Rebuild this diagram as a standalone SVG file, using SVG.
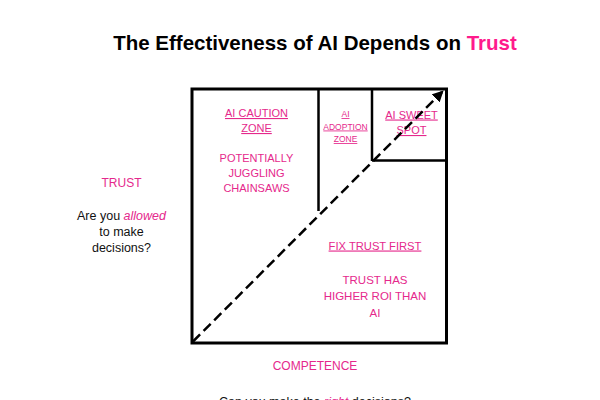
<svg xmlns="http://www.w3.org/2000/svg" width="600" height="400" viewBox="0 0 600 400">
<defs>
<style>
.t{font-family:"Liberation Sans",Arial,sans-serif;}
.p{fill:#e5288c;}
.u{text-decoration:underline;}
.k{fill:#111;}
.box{fill:none;stroke:#000;stroke-width:3;}
.ln{stroke:#000;stroke-width:2.5;fill:none;}
</style>
<marker id="ah" viewBox="0 0 10 10" refX="8" refY="5" markerWidth="4.5" markerHeight="4.5" orient="auto" markerUnits="strokeWidth">
<path d="M0,0 L10,5 L0,10 Z" fill="#000"/>
</marker>
</defs>
<rect width="600" height="400" fill="#fff"/>
<text class="t" x="315" y="50" font-size="20.5" font-weight="bold" text-anchor="middle" fill="#000">The Effectiveness of AI Depends on <tspan fill="#ff1a8c">Trust</tspan></text>

<g id="frame">
<rect class="box" x="192" y="89" width="254.5" height="254"/>
</g>
<g id="caution-zone">
<line class="ln" x1="318.5" y1="89" x2="318.5" y2="211"/>
<text class="t p" font-size="11" text-anchor="middle"><tspan class="u" x="256.5" y="117">AI CAUTION</tspan><tspan class="u" x="256.5" y="132">ZONE  </tspan></text>
<text class="t p" font-size="11" text-anchor="middle"><tspan x="256.5" y="162">POTENTIALLY</tspan><tspan x="256.5" y="177">JUGGLING</tspan><tspan x="256.5" y="192">CHAINSAWS</tspan></text>
</g>
<g id="adoption-zone">
<line class="ln" x1="372" y1="89" x2="372" y2="161"/>
<text class="t p u" font-size="8.5" text-anchor="middle"><tspan x="345.5" y="117">AI</tspan><tspan x="345.5" y="129.5">ADOPTION</tspan><tspan x="345.5" y="142">ZONE</tspan></text>
</g>
<g id="sweet-spot">
<line class="ln" x1="372" y1="160.5" x2="446" y2="160.5"/>
<text class="t p u" font-size="11" text-anchor="middle"><tspan x="411.5" y="118.5">AI SWEET</tspan><tspan x="411.5" y="134">SPOT</tspan></text>
</g>
<g id="fix-trust">
<text class="t p u" font-size="11.2" text-anchor="middle" x="375" y="249.5">FIX TRUST FIRST </text>
<text class="t p" font-size="11.5" text-anchor="middle"><tspan x="375" y="283.5">TRUST HAS</tspan><tspan x="375" y="300">HIGHER ROI THAN</tspan><tspan x="375" y="316.5">AI</tspan></text>
</g>
<g id="connectors">
<line x1="193" y1="341.5" x2="442" y2="92" stroke="#000" stroke-width="2.5" stroke-dasharray="10,5" marker-end="url(#ah)"/>
</g>
<g id="trust-axis">
<text class="t p" font-size="12" text-anchor="middle" x="121.5" y="187">TRUST</text>
<text class="t k" font-size="12.5" text-anchor="middle"><tspan x="121.5" y="220">Are you <tspan class="p" font-style="italic">allowed</tspan></tspan><tspan x="121.5" y="236">to make</tspan><tspan x="121.5" y="252">decisions?</tspan></text>
</g>
<g id="competence-axis">
<text class="t p" font-size="12" text-anchor="middle" x="315" y="369.5">COMPETENCE</text>
<text class="t k" font-size="12.5" text-anchor="middle" x="315" y="405.5">Can you make the <tspan class="p" font-style="italic">right</tspan> decisions?</text>
</g>
</svg>
